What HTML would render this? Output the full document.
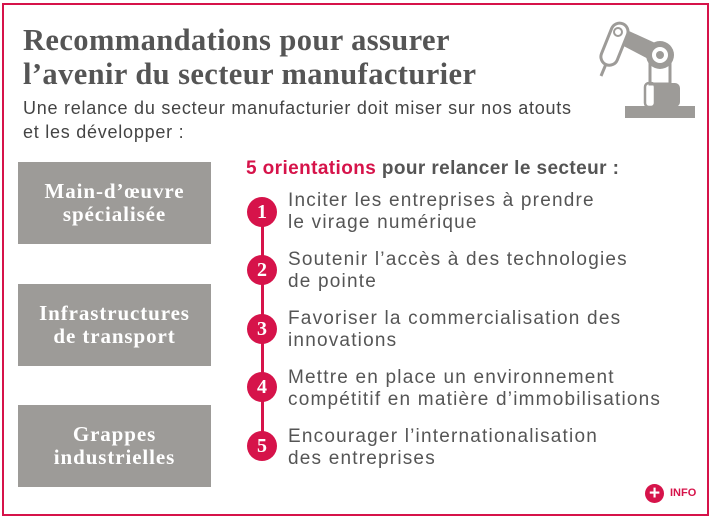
<!DOCTYPE html>
<html><head><meta charset="utf-8"><style>
body{margin:0;width:711px;height:518px;background:#fff;position:relative;overflow:hidden;font-family:"Liberation Sans",sans-serif;}
.frame{position:absolute;left:2px;top:3px;width:703px;height:509px;border:2px solid #d6134a;}
.t{position:absolute;left:23px;top:23px;font-family:"Liberation Serif",serif;font-weight:bold;font-size:30.5px;line-height:34px;color:#555;letter-spacing:0.4px}
.sub{position:absolute;left:23px;top:96px;font-size:18px;line-height:24px;color:#444;letter-spacing:0.75px}
.box{position:absolute;left:18px;width:193px;height:82px;background:#9d9b98;color:#fff;font-family:"Liberation Serif",serif;font-weight:bold;font-size:21px;line-height:23px;letter-spacing:0.9px;display:flex;align-items:center;justify-content:center;text-align:center}
.h{position:absolute;left:246px;top:158px;font-size:19px;font-weight:bold;color:#555;letter-spacing:0.4px}
.h span{color:#d6134a}
.c{position:absolute;left:247px;width:30px;height:30px;border-radius:50%;background:#d6134a;color:#fff;font-family:"Liberation Serif",serif;font-weight:bold;font-size:20px;line-height:30px;text-align:center}
.li{position:absolute;left:288px;font-size:19px;line-height:22px;color:#555;letter-spacing:1.2px}
</style></head><body>
<div class="frame"></div>
<div class="t">Recommandations pour assurer<br>l’avenir du secteur manufacturier</div>
<div class="sub">Une relance du secteur manufacturier doit miser sur nos atouts<br>et les développer :</div>
<div class="box" style="top:162px">Main-d’œuvre<br>spécialisée</div>
<div class="box" style="top:284px">Infrastructures<br>de transport</div>
<div class="box" style="top:405px">Grappes<br>industrielles</div>
<div class="h"><span>5 orientations</span> pour relancer le secteur :</div>
<div style="position:absolute;left:261px;top:212px;width:3px;height:234px;background:#d6134a"></div>
<div class="c" style="top:197px">1</div>
<div class="c" style="top:255px">2</div>
<div class="c" style="top:314px">3</div>
<div class="c" style="top:372px">4</div>
<div class="c" style="top:431px">5</div>
<div class="li" style="top:190px">Inciter les entreprises à prendre<br>le virage numérique</div>
<div class="li" style="top:249px">Soutenir l’accès à des technologies<br>de pointe</div>
<div class="li" style="top:308px">Favoriser la commercialisation des<br>innovations</div>
<div class="li" style="top:367px">Mettre en place un environnement<br>compétitif en matière d’immobilisations</div>
<div class="li" style="top:426px">Encourager l’internationalisation<br>des entreprises</div>
<svg style="position:absolute;left:580px;top:0" width="131" height="130" viewBox="0 0 131 130">
<g fill="#9d9b98" stroke="#9d9b98">
<rect x="45" y="106" width="70" height="12" stroke="none"/>
<rect x="64" y="83" width="36" height="24" rx="5" stroke="none"/>
<rect x="65" y="83" width="10" height="24" rx="4" fill="#fff" stroke-width="2.5"/>
<rect x="70" y="62" width="20" height="22" fill="none" stroke-width="3"/>
<polygon points="38,26 84,47 76,63 32,40" stroke="none"/>
<circle cx="80" cy="55" r="14" stroke="none"/>
<circle cx="80" cy="55" r="8" fill="#fff" stroke="none"/>
<circle cx="80" cy="55" r="4" stroke="none"/>
<rect x="26" y="22" width="17" height="44" rx="8.5" transform="rotate(22 34 44)" fill="#fff" stroke-width="3"/>
<circle cx="38" cy="32" r="4" fill="#fff" stroke-width="2"/>
<line x1="26" y1="64" x2="21" y2="76" stroke-width="3"/>
</g></svg>
<div style="position:absolute;left:645px;top:484px;width:19px;height:19px;border-radius:50%;background:#d6134a;color:#fff;font-weight:bold;font-size:19px;line-height:19px;text-align:center">+</div>
<div style="position:absolute;left:670px;top:487px;font-size:11px;font-weight:bold;color:#d6134a">INFO</div>
</body></html>
